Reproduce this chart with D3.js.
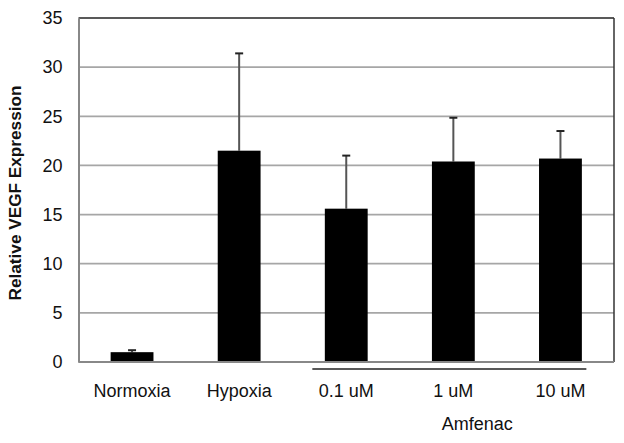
<!DOCTYPE html>
<html><head><meta charset="utf-8">
<script src="https://cdn.jsdelivr.net/npm/d3@7"></script>
<style>body{margin:0;background:#fff}svg{display:block}text{font-family:"Liberation Sans",Arial,sans-serif}</style>
</head><body>
<svg id="c" width="624" height="443"></svg>
<script>
const categories = ["Normoxia","Hypoxia","0.1 uM","1 uM","10 uM"];
const means = [1.0, 21.5, 15.6, 20.4, 20.7];
const errors = [0.2, 9.9, 5.4, 4.45, 2.8];
const yTicks = [0,5,10,15,20,25,30,35];
const groupLabel = "Amfenac";
const groupMembers = ["0.1 uM","1 uM","10 uM"];

const svg = d3.select("#c");
const L=78.5, R=614, T=18, B=362;
const x = d3.scaleBand().domain(categories).range([L,R]).paddingInner(0.6).paddingOuter(0.3);
const y = d3.scaleLinear().domain([0,35]).range([B,T]);

// gridlines
svg.append("g").selectAll("line").data(yTicks.filter(d=>d>0&&d<35)).join("line")
  .attr("x1",L).attr("x2",R).attr("y1",d=>y(d)).attr("y2",d=>y(d))
  .attr("stroke","#a6a6a6").attr("stroke-width",1.8);

// frame
svg.append("line").attr("x1",L).attr("x2",R).attr("y1",T).attr("y2",T).attr("stroke","#222").attr("stroke-width",1.5);
svg.append("line").attr("x1",R).attr("x2",R).attr("y1",T).attr("y2",B).attr("stroke","#333").attr("stroke-width",1.5);

// error bars
const eg = svg.append("g");
categories.forEach((c,i)=>{
  const cx = x(c)+x.bandwidth()/2;
  eg.append("line").attr("x1",cx).attr("x2",cx).attr("y1",y(means[i])).attr("y2",y(means[i]+errors[i]))
    .attr("stroke","#555").attr("stroke-width",2);
  eg.append("line").attr("x1",cx-4).attr("x2",cx+4).attr("y1",y(means[i]+errors[i])).attr("y2",y(means[i]+errors[i]))
    .attr("stroke","#222").attr("stroke-width",2);
});

// bars
svg.append("g").selectAll("rect").data(categories).join("rect")
  .attr("x",d=>x(d)).attr("width",x.bandwidth())
  .attr("y",(d,i)=>y(means[i])).attr("height",(d,i)=>B-y(means[i]))
  .attr("fill","#000");

// axes
const ya = svg.append("g").attr("transform",`translate(${L},0)`)
  .call(d3.axisLeft(y).tickValues(yTicks).tickSize(0).tickPadding(16));
ya.select(".domain").attr("stroke","#888").attr("stroke-width",2);
ya.selectAll("text").attr("font-size",18).attr("fill","#111");

const xa = svg.append("g").attr("transform",`translate(0,${B})`)
  .call(d3.axisBottom(x).tickSize(0).tickPadding(22));
xa.select(".domain").attr("d",`M${L},0H${R}`).attr("stroke","#888").attr("stroke-width",2);
xa.selectAll("text").attr("font-size",18).attr("fill","#111");

// group line and label
const gx1 = x(groupMembers[0])-12.5, gx2 = x(groupMembers[groupMembers.length-1])+x.bandwidth()+4.5;
svg.append("line").attr("x1",gx1).attr("x2",gx2).attr("y1",369).attr("y2",369).attr("stroke","#222").attr("stroke-width",1.5);
svg.append("text").attr("x",(x("1 uM")+x.bandwidth()/2)+24).attr("y",430).attr("text-anchor","middle")
  .attr("font-size",18).attr("fill","#111").text(groupLabel);

// y title
svg.append("text").attr("transform",`translate(21,${(T+B)/2+3}) rotate(-90)`).attr("text-anchor","middle")
  .attr("font-size",17.2).attr("font-weight","bold").attr("fill","#111").text("Relative VEGF Expression");
</script>
</body></html>
